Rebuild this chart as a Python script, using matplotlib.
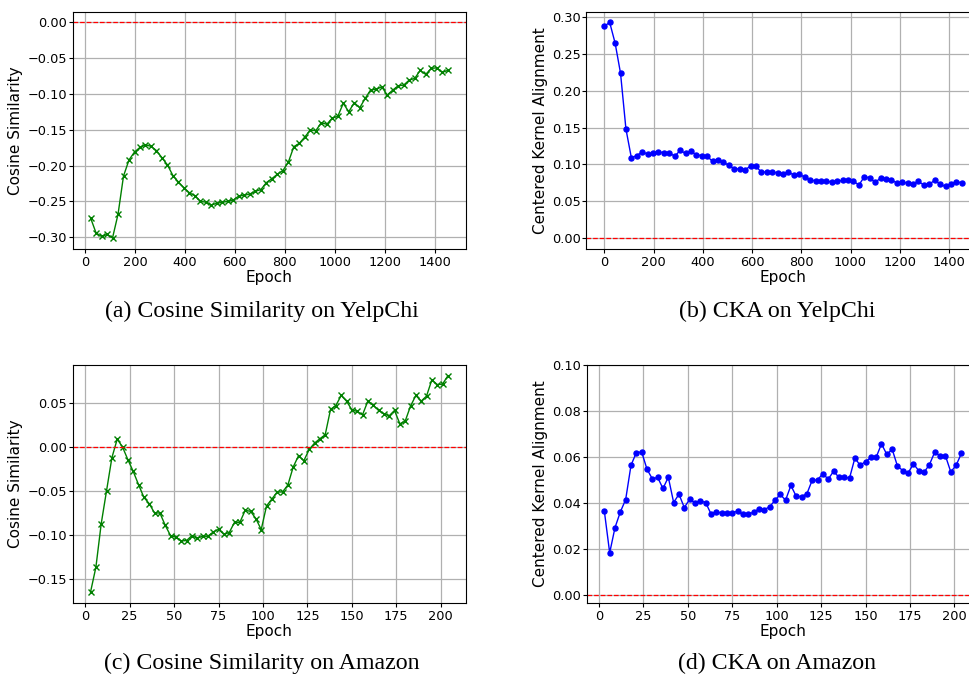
import numpy as np
import matplotlib
matplotlib.use("Agg")
import matplotlib.pyplot as plt

# ---------------- data ----------------
yelp_cos_epochs = np.arange(22, 1453, 22)          # 66 logged epochs
yelp_cos = [-0.273, -0.294, -0.299, -0.296, -0.301, -0.268, -0.2145, -0.192, -0.181, -0.1745,
            -0.171, -0.173, -0.179, -0.189, -0.199, -0.214, -0.223, -0.231, -0.238, -0.242,
            -0.250, -0.251, -0.255, -0.2526, -0.2512, -0.2498, -0.248, -0.2424, -0.2414, -0.2396,
            -0.2358, -0.2335, -0.2238, -0.2182, -0.2121, -0.207, -0.1953, -0.1735, -0.1689, -0.160,
            -0.1503, -0.1512, -0.140, -0.1423, -0.1335, -0.1312, -0.113, -0.1247, -0.1121, -0.1191,
            -0.106, -0.094, -0.0935, -0.0898, -0.1014, -0.0945, -0.0884, -0.0875, -0.0805, -0.0782,
            -0.067, -0.0726, -0.0642, -0.0633, -0.0698, -0.067]

yelp_cka_epochs = np.arange(0, 1453, 22)           # 67 logged epochs
yelp_cka = [0.288, 0.293, 0.265, 0.224, 0.148, 0.109, 0.112, 0.117, 0.114, 0.115,
            0.117, 0.116, 0.116, 0.111, 0.119, 0.115, 0.118, 0.113, 0.112, 0.111,
            0.104, 0.106, 0.103, 0.0986, 0.094, 0.094, 0.0927, 0.0977, 0.0972, 0.0896,
            0.0896, 0.0896, 0.0886, 0.0873, 0.0896, 0.0855, 0.0864, 0.0828, 0.0787, 0.0778,
            0.0778, 0.0778, 0.0755, 0.077, 0.0782, 0.0787, 0.0773, 0.0719, 0.0832, 0.0818,
            0.0755, 0.0814, 0.0805, 0.0791, 0.0746, 0.076, 0.0746, 0.0737, 0.0769, 0.0719,
            0.0728, 0.0787, 0.0728, 0.070, 0.0733, 0.0764, 0.075]

amazon_epochs = np.arange(3, 205, 3)               # 68 logged epochs
amazon_cos = [-0.1648, -0.1367, -0.0871, -0.0496, -0.0121, 0.0091, 0.0, -0.0144, -0.0277, -0.0428,
              -0.0572, -0.0644, -0.075, -0.075, -0.089, -0.1008, -0.1023, -0.1068, -0.1064, -0.1008,
              -0.1038, -0.1015, -0.1015, -0.0966, -0.0936, -0.0992, -0.0973, -0.0856, -0.0856, -0.072,
              -0.0731, -0.0814, -0.0939, -0.067, -0.0591, -0.0511, -0.0511, -0.0432, -0.0227, -0.0098,
              -0.0155, -0.0027, 0.0045, 0.0095, 0.014, 0.0428, 0.0473, 0.0587, 0.0523, 0.0424,
              0.0405, 0.0367, 0.0523, 0.0477, 0.0417, 0.0379, 0.0356, 0.0417, 0.0265, 0.0295,
              0.0466, 0.0587, 0.0523, 0.058, 0.0765, 0.0712, 0.0716, 0.0811]
amazon_cka = [0.0365, 0.0184, 0.0294, 0.0362, 0.0416, 0.0565, 0.062, 0.0623, 0.0548, 0.0506,
              0.0512, 0.0464, 0.0513, 0.0403, 0.0439, 0.0381, 0.0417, 0.0401, 0.041, 0.0403,
              0.0354, 0.0362, 0.0358, 0.0358, 0.0359, 0.0365, 0.0352, 0.0352, 0.0361, 0.0374,
              0.0372, 0.0384, 0.0412, 0.0438, 0.0413, 0.0477, 0.043, 0.0429, 0.0441, 0.050,
              0.0501, 0.0529, 0.0504, 0.0539, 0.0513, 0.0513, 0.0509, 0.0596, 0.0565, 0.0581,
              0.0599, 0.060, 0.0658, 0.0612, 0.0635, 0.0561, 0.0542, 0.0532, 0.0571, 0.0541,
              0.0535, 0.0568, 0.0623, 0.0604, 0.0606, 0.0536, 0.0565, 0.0617]

captions = ["(a) Cosine Similarity on YelpChi", "(b) CKA on YelpChi",
            "(c) Cosine Similarity on Amazon", "(d) CKA on Amazon"]
cos_label = "Cosine Similarity"
cka_label = "Centered Kernel Alignment"

# ---------------- figure ----------------
W, H = 969, 675
fig = plt.figure(figsize=(W / 100, H / 100), dpi=100)


def add_axes_px(left, right, top, bottom):
    return fig.add_axes([left / W, 1 - bottom / H, (right - left) / W, (bottom - top) / H])


TICK = 9.3
LAB = 11

ax_a = add_axes_px(72.7, 465.5, 11.7, 248.7)
ax_b = add_axes_px(586.4, 979.7, 11.7, 248.7)
ax_c = add_axes_px(72.7, 465.7, 365.0, 602.7)
ax_d = add_axes_px(586.5, 979.3, 365.3, 602.7)


def style(ax, ylabel):
    ax.grid(True, color="#b0b0b0", linewidth=0.9)
    ax.set_axisbelow(True)
    ax.set_xlabel("Epoch", fontsize=LAB, labelpad=1)
    ax.set_ylabel(ylabel, fontsize=LAB, labelpad=3)
    ax.tick_params(axis="both", labelsize=TICK, length=3.2)
    ax.tick_params(axis="y", pad=1)
    ax.tick_params(axis="x", pad=2)


ax_a.plot(yelp_cos_epochs, yelp_cos, color="green", marker="x", markersize=4,
          markeredgewidth=1, linewidth=1)
ax_a.axhline(0, color="red", linestyle="--", linewidth=0.9)
style(ax_a, cos_label)

ax_b.plot(yelp_cka_epochs, yelp_cka, color="blue", marker="o", markersize=3.6, linewidth=1)
ax_b.axhline(0, color="red", linestyle="--", linewidth=0.9)
style(ax_b, cka_label)
ax_b.set_xticks([0, 200, 400, 600, 800, 1000, 1200, 1400])

ax_c.plot(amazon_epochs, amazon_cos, color="green", marker="x", markersize=4,
          markeredgewidth=1, linewidth=1)
ax_c.axhline(0, color="red", linestyle="--", linewidth=0.9)
style(ax_c, cos_label)

ax_d.plot(amazon_epochs, amazon_cka, color="blue", marker="o", markersize=3.6, linewidth=1)
ax_d.axhline(0, color="red", linestyle="--", linewidth=0.9)
style(ax_d, cka_label)
ax_d.set_ylim(-0.0033, 0.10)
ax_d.set_xticks([0, 25, 50, 75, 100, 125, 150, 175, 200])

cap_pos = [(262, 311), (777, 311), (262, 663), (777, 663)]
for (cx, cy), txt in zip(cap_pos, captions):
    fig.text(cx / W, 1 - cy / H, txt, ha="center", va="center",
             family="Liberation Serif", fontsize=17.2)

fig.savefig("out.png", dpi=100)
